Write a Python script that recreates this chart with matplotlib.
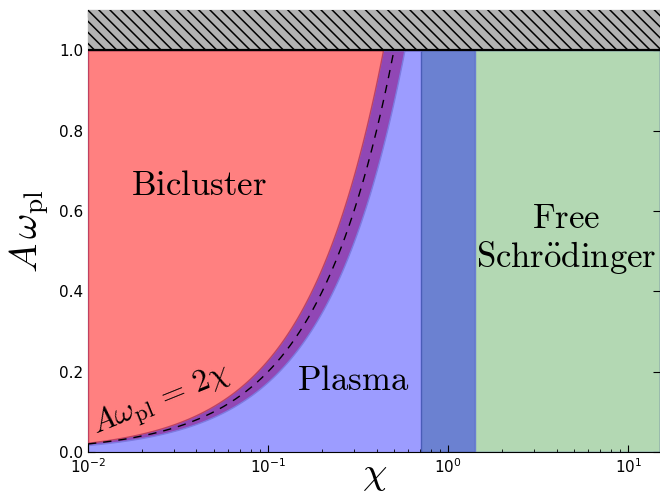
import numpy as np
import matplotlib
matplotlib.use("Agg")
import matplotlib.pyplot as plt

# phase boundaries (chi values) and band factors around A*w_pl = 2*chi
chi_min, chi_max = 1e-2, 15.0
a_max, a_top = 1.0, 1.1
band_hi, band_lo = 2.3, 1.75          # A = band * chi
line_k = 2.0                          # A = 2 chi (dashed)
chi_plasma_end = 1 / np.sqrt(2)       # plasma -> intermediate
chi_free = np.sqrt(2)                 # start of free Schroedinger

plt.rcParams.update({
    "font.family": "DejaVu Sans",
    "mathtext.fontset": "dejavusans",
    "xtick.direction": "in", "ytick.direction": "in",
    "xtick.top": True, "ytick.right": True,
    "xtick.major.size": 5, "ytick.major.size": 5,
    "xtick.minor.size": 2.5, "ytick.minor.size": 2.5,
    "xtick.labelsize": 11, "ytick.labelsize": 11,
    "hatch.linewidth": 1.1,
})

fig = plt.figure(figsize=(6.6, 4.91), dpi=100)
ax = fig.add_axes([88 / 660, 39 / 491, 572 / 660, 442 / 491])

chi = np.logspace(np.log10(chi_min), np.log10(chi_free), 600)

# plasma (light blue) background up to the intermediate band
ax.axvspan(chi_min, chi_plasma_end, ymax=a_max / a_top, color="#9c9cff", lw=0, zorder=0)
ax.axvspan(chi_plasma_end, chi_free, ymax=a_max / a_top, facecolor="#6b81d1",
           edgecolor="#4a5cb8", lw=1, zorder=1)
ax.axvspan(chi_free, chi_max, ymax=a_max / a_top, facecolor="#b3d8b3",
           edgecolor="#6b81d1", lw=1, zorder=1)

m = chi <= chi_plasma_end
lo = np.minimum(band_lo * chi[m], a_max)
hi = np.minimum(band_hi * chi[m], a_max)
ax.fill_between(chi[m], lo, hi, facecolor="#9147b5", edgecolor="#7d7ae0", lw=1, zorder=2)
ax.fill_between(chi[m], hi, a_max, where=hi < a_max, facecolor="#ff8080",
                edgecolor="#c04060", lw=1, zorder=3)
ax.plot(chi[m], np.minimum(line_k * chi[m], a_max), "k--", lw=1, dashes=(6, 5), zorder=4)

# forbidden region above A*w_pl = 1
ax.fill_between([chi_min, chi_max], a_max, a_top, facecolor="#b3b3b3",
                edgecolor="black", hatch="\\\\\\", lw=0, zorder=5)
ax.axhline(a_max, color="black", lw=1.6, zorder=6)

ax.set_xscale("log")
ax.set_xlim(chi_min, chi_max)
ax.set_ylim(0, a_top)
ax.set_yticks([0.0, 0.2, 0.4, 0.6, 0.8, 1.0])
ax.set_yticklabels(["0.0", "0.2", "0.4", "0.6", "0.8", "1.0"])

cm = dict(math_fontfamily="cm", zorder=7)
ax.text(0.0414, 0.639, r"$\mathrm{Bicluster}$", fontsize=25, ha="center", va="baseline", **cm)
ax.text(0.296, 0.154, r"$\mathrm{Plasma}$", fontsize=25, ha="center", va="baseline", **cm)
ax.text(4.52, 0.557, r"$\mathrm{Free}$", fontsize=25, ha="center", va="baseline", **cm)
ax.text(4.52, 0.460, r"$\mathrm{Schr\"odinger}$", fontsize=25, ha="center", va="baseline", **cm)
ax.text(0.0110, 0.045, r"$A\omega_{\rm pl}\,=\,2\chi$", fontsize=23, ha="left", va="baseline",
        rotation=22, rotation_mode="anchor", **cm)

fig.text(375 / 660, 1 - 474 / 491, r"$\chi$", fontsize=28, ha="center", va="center",
         math_fontfamily="cm")
ax.set_ylabel(r"$A\,\omega_{\rm pl}$", fontsize=28, labelpad=6, math_fontfamily="cm")

fig.savefig("out.png", dpi=100)
